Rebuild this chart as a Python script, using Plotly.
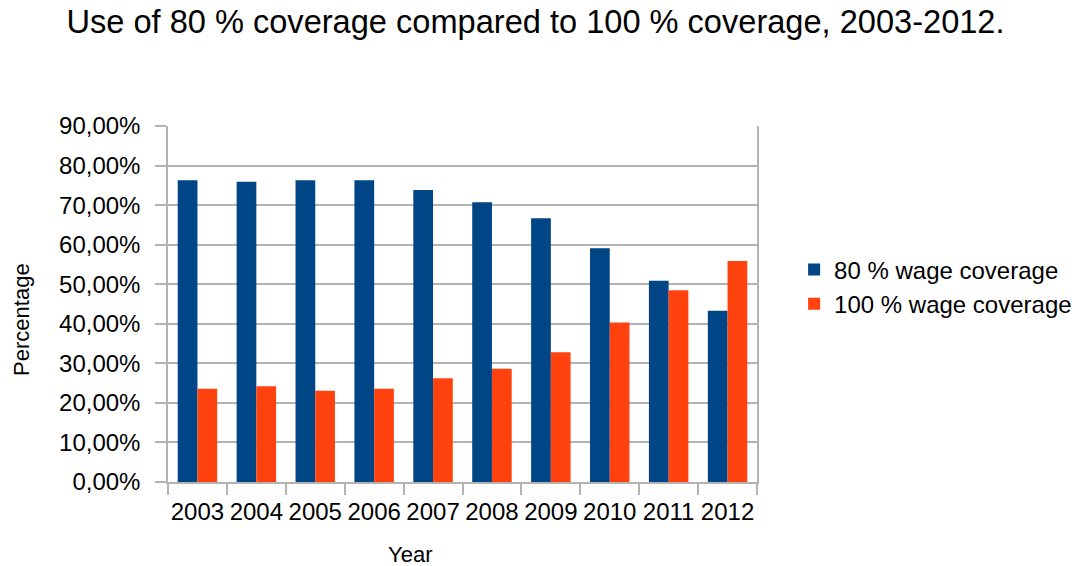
import plotly.graph_objects as go

years = ["2003", "2004", "2005", "2006", "2007", "2008", "2009", "2010", "2011", "2012"]
coverage_80 = [76.3, 75.9, 76.3, 76.3, 73.8, 70.7, 66.7, 59.1, 50.9, 43.3]
coverage_100 = [23.6, 24.2, 23.1, 23.6, 26.2, 28.6, 32.8, 40.3, 48.5, 55.9]
series_names = ["80 % wage coverage", "100 % wage coverage"]
colors = ["#004586", "#ff420e"]
x_title = "Year"
y_title = "Percentage"

FONT = "Liberation Sans, Arial, sans-serif"
GRID = "#b3b3b3"

fig = go.Figure()
fig.add_trace(go.Bar(x=years, y=coverage_80, name=series_names[0],
                     marker=dict(color=colors[0], line=dict(width=0))))
fig.add_trace(go.Bar(x=years, y=coverage_100, name=series_names[1],
                     marker=dict(color=colors[1], line=dict(width=0))))

fig.update_layout(
    width=1084, height=566,
    margin=dict(l=168, r=327, t=126, b=84, autoexpand=False),
    paper_bgcolor="white", plot_bgcolor="white",
    separators=", ",
    barmode="group", bargap=0.33, bargroupgap=0,
    font=dict(family=FONT, color="black", size=24),
    title=dict(text="Use of 80 % coverage compared to 100 % coverage, 2003-2012.",
               x=0.494, xref="container", xanchor="center",
               y=0.962, yref="container", yanchor="middle",
               font=dict(size=32.6, family=FONT, color="black")),
    legend=dict(x=1.063, xanchor="left", y=0.548, yanchor="middle",
                font=dict(size=24, family=FONT, color="black"),
                bgcolor="rgba(0,0,0,0)", tracegroupgap=0),
    xaxis=dict(
        automargin=False,
        showline=True, linecolor=GRID, linewidth=1.5,
        ticks="outside", tickson="boundaries", ticklen=11, tickcolor=GRID, tickwidth=1.5,
        ticklabelstandoff=7,
        showgrid=False, tickangle=0,
        tickfont=dict(size=24, family=FONT, color="black"),
    ),
    yaxis=dict(
        automargin=False,
        range=[0, 90], dtick=10, tick0=0,
        tickformat=".2f", ticksuffix="%",
        showline=True, linecolor=GRID, linewidth=1.5, mirror=True,
        showgrid=True, gridcolor=GRID, gridwidth=1.5,
        zeroline=False,
        ticks="outside", ticklen=11, tickcolor=GRID, tickwidth=1.5,
        ticklabelstandoff=10,
        tickfont=dict(size=24, family=FONT, color="black"),
    ),
    annotations=[
        dict(text=x_title, xref="paper", yref="paper", x=0.411, y=-0.205,
             xanchor="center", yanchor="middle", showarrow=False,
             font=dict(size=22, family=FONT, color="black")),
        dict(text=y_title, xref="paper", yref="paper", x=-0.248, y=0.458,
             xanchor="center", yanchor="middle", showarrow=False, textangle=-90,
             font=dict(size=22, family=FONT, color="black")),
    ],
)

fig.write_html("out.html")
